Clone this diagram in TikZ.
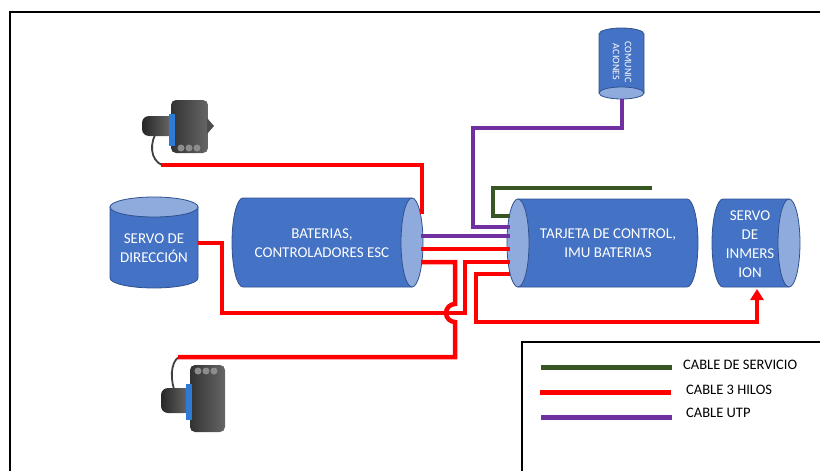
\documentclass[tikz,border=0pt]{standalone}
\usepackage{fontspec}
\setmainfont{Carlito}
\usetikzlibrary{arrows.meta}

\definecolor{cylblue}{HTML}{4472C4}
\definecolor{cyllight}{HTML}{8FAADC}
\definecolor{cyledge}{HTML}{2F528F}
\definecolor{cablered}{HTML}{FF0000}
\definecolor{cableutp}{HTML}{7030A0}
\definecolor{cablesrv}{HTML}{375623}
\definecolor{thrband}{HTML}{2E7BD6}

\tikzset{
  cylbody/.style={fill=cylblue, draw=cyledge, line width=0.8pt},
  cylend/.style={fill=cyllight, draw=cyledge, line width=0.8pt},
  cyltext/.style={text=white, align=center, font=\fontsize{15}{19}\selectfont},
  hilos/.style={draw=cablered, line width=4.5pt},
  utp/.style={draw=cableutp, line width=4pt},
  servicio/.style={draw=cablesrv, line width=4pt},
  legtext/.style={anchor=west, inner sep=0pt, font=\fontsize{14.5}{17}\selectfont},
}

\begin{document}
\begin{tikzpicture}[x=1pt,y=-1pt]
\useasboundingbox (0,0) rectangle (820,471);

% outer frame
\draw[line width=2.5pt] (820,12) -- (10,12) -- (10,471);

% cylinders
\path[cylbody] (110,207) -- (110,278) arc[start angle=180, end angle=0, x radius=44, y radius=10] -- (198,207) -- cycle;
\path[cylend] (154,207) ellipse[x radius=44, y radius=10];

\path[cylbody] (243,198) -- (412,198) -- (412,287) -- (243,287) arc[start angle=90, end angle=270, x radius=11, y radius=44.5] -- cycle;
\path[cylend] (412,242.5) ellipse[x radius=11, y radius=44.5];

\path[cylbody] (518,199) -- (687,199) arc[start angle=-90, end angle=90, x radius=11, y radius=44] -- (518,287) -- cycle;
\path[cylend] (518,243) ellipse[x radius=11, y radius=44];

\path[cylbody] (723,199) -- (789,199) -- (789,287) -- (723,287) arc[start angle=90, end angle=270, x radius=11, y radius=44] -- cycle;
\path[cylend] (789,243) ellipse[x radius=11, y radius=44];

\path[cylbody] (599,93) -- (599,34) arc[start angle=180, end angle=360, x radius=22.5, y radius=6] -- (644,93) -- cycle;
\path[cylend] (621.5,93) ellipse[x radius=22.5, y radius=6];

\node[cyltext] (dir) at (154,248) {SERVO DE\\DIRECCIÓN};
\node[cyltext] (bat) at (322,243.5) {BATERIAS,\\CONTROLADORES ESC};
\node[cyltext] (tarj) at (608,243) {TARJETA DE CONTROL,\\IMU BATERIAS};
\node[cyltext] (inm) at (750,244) {SERVO\\DE\\INMERS\\ION};
\node[cyltext, rotate=-90, font=\fontsize{10}{12}\selectfont] (com) at (622,62) {COMUNIC\\ACIONES};

% thrusters
\draw[line width=1.8pt, black!75, line cap=round] (158,130) .. controls (149,142) and (150,160) .. (162,165);
\shade[left color=black!85, right color=black!55, rounded corners=7pt] (142,116) rectangle (176,136);
\shade[left color=black!80, right color=black!60, rounded corners=5pt] (171,100) rectangle (208,153);
\fill[black!70] (207,118) -- (214,126) -- (207,134) -- cycle;
\fill[thrband] (169,114) rectangle (175,146);
\foreach \px in {181,189,197} \fill[black!45] (\px,148) circle[radius=3.5];

\draw[line width=1.8pt, black!75, line cap=round] (179,357) .. controls (170,362) and (170,382) .. (176,394);
\shade[left color=black!85, right color=black!55, rounded corners=7pt] (161,388) rectangle (193,413);
\shade[left color=black!80, right color=black!60, rounded corners=5pt] (190,365) rectangle (225,432);
\fill[thrband] (186,384) rectangle (192,420);
\foreach \px in {198,206,214} \fill[black!45] (\px,371) circle[radius=3.5];

% cable ends
\coordinate (thr1) at (161,165);
\coordinate (thr2) at (178,357);
\coordinate (dir-out) at (198,243);
\coordinate (bat-a) at (422,214);
\coordinate (bat-b) at (421,236);
\coordinate (bat-c) at (421,249);
\coordinate (bat-d) at (421,262);
\coordinate (tarj-a) at (510,216);
\coordinate (tarj-b) at (510,227);
\coordinate (tarj-c) at (510,236);
\coordinate (tarj-d) at (510,249);
\coordinate (tarj-e) at (510,262);
\coordinate (tarj-f) at (510,274);
\coordinate (com-out) at (622,99);
\coordinate (inm-in) at (757,289);
\coordinate (srv-end) at (652,188);

% cables
\draw[servicio] (srv-end) -- (493,188) |- (tarj-a);
\draw[utp] (com-out) |- (473,128) |- (tarj-b);
\draw[utp] (bat-b) -- (tarj-c);
\draw[hilos] (thr1) -| (bat-a);
\draw[hilos] (bat-c) -- (tarj-d);
\draw[hilos] (dir-out) -| (222,313) -- (465,313) |- (tarj-e);
\draw[hilos] (bat-d) -| (455,304) arc[start angle=270, end angle=90, radius=9] |- (thr2);
\draw[hilos, -{Triangle[width=13pt,length=11pt]}] (tarj-f) -| (476,322) -| (inm-in);

% legend
\draw[line width=2.5pt] (522,471) -- (522,342) -- (820,342);
\node[legtext] (leg-srv) at (683,365) {CABLE DE SERVICIO};
\node[legtext] (leg-hilos) at (686,390) {CABLE 3 HILOS};
\node[legtext] (leg-utp) at (686,413) {CABLE UTP};
\draw[servicio, line width=5pt] (541,367) -- (672,367);
\draw[hilos, line width=5pt] (540,392) -- (671,392);
\draw[utp, line width=5pt] (541,417) -- (672,417);
\end{tikzpicture}
\end{document}
